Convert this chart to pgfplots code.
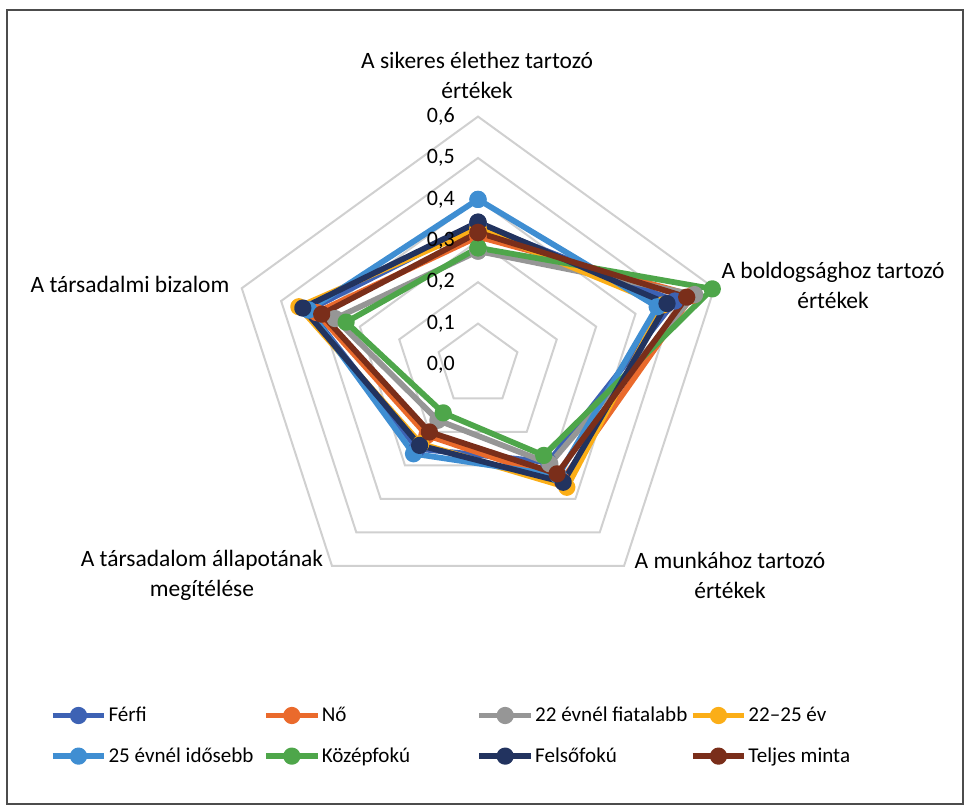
\documentclass[border=0pt]{standalone}
\usepackage{pgfplots}
\pgfplotsset{compat=1.18}
\usepackage{fontspec}
\setmainfont{Carlito}

\definecolor{ferfi}{HTML}{3D62B4}
\definecolor{no}{HTML}{EA6A2C}
\definecolor{fiatal}{HTML}{969696}
\definecolor{kozep}{HTML}{FBAE17}
\definecolor{idos}{HTML}{3F8ED2}
\definecolor{kozepfok}{HTML}{4EA64A}
\definecolor{felso}{HTML}{22335F}
\definecolor{teljes}{HTML}{7A2E1A}
\definecolor{racs}{HTML}{D0D0D0}

% spokes (deg): 90 sikeres elet, 18 boldogsag, -54 munka, -126 tarsadalom allapota, 162 bizalom
\pgfplotsset{
  radar/.style={data cs=polar, line width=4.3pt, line join=round, mark=*, mark size=4.3pt,
    mark options={solid}},
}

\begin{document}
\begin{tikzpicture}
\begin{axis}[
  hide axis, scale only axis, clip=false,
  width=724.5pt, height=604.5pt,
  xmin=-1.1546, xmax=1.1787, ymin=-1.0652, ymax=0.8816,
  legend columns=4,
  legend cell align=left,
  legend style={draw=none, fill=none, at={(axis cs:-1.0445,-0.8130)}, anchor=north west,
    font=\fontsize{15.8}{19}\selectfont, row sep=14pt,
    nodes={inner xsep=1pt},
    /tikz/every odd column/.append style={column sep=0pt}},
  legend image code/.code={\draw[mark repeat=2, mark phase=2, #1]
    plot coordinates {(0cm,0cm) (0.68cm,0cm) (1.36cm,0cm)};},
]
\path (rel axis cs:0,0) rectangle (rel axis cs:1,1);
\draw[gray!60!black, line width=1.4pt] (axis cs:-1.1377,-1.0604) rectangle (axis cs:1.1715,0.8575);

% grid
\addplot[forget plot, data cs=polar, racs, line width=1.5pt, line join=miter] coordinates {(90,0.1) (18,0.1) (-54,0.1) (-126,0.1) (162,0.1) (90,0.1) (18,0.1)};
\addplot[forget plot, data cs=polar, racs, line width=1.5pt, line join=miter] coordinates {(90,0.2) (18,0.2) (-54,0.2) (-126,0.2) (162,0.2) (90,0.2) (18,0.2)};
\addplot[forget plot, data cs=polar, racs, line width=1.5pt, line join=miter] coordinates {(90,0.3) (18,0.3) (-54,0.3) (-126,0.3) (162,0.3) (90,0.3) (18,0.3)};
\addplot[forget plot, data cs=polar, racs, line width=1.5pt, line join=miter] coordinates {(90,0.4) (18,0.4) (-54,0.4) (-126,0.4) (162,0.4) (90,0.4) (18,0.4)};
\addplot[forget plot, data cs=polar, racs, line width=1.5pt, line join=miter] coordinates {(90,0.5) (18,0.5) (-54,0.5) (-126,0.5) (162,0.5) (90,0.5) (18,0.5)};
\addplot[forget plot, data cs=polar, racs, line width=1.5pt, line join=miter] coordinates {(90,0.6) (18,0.6) (-54,0.6) (-126,0.6) (162,0.6) (90,0.6) (18,0.6)};

% series
\addplot[radar, color=ferfi] coordinates {(90,0.340) (18,0.500) (-54,0.290) (-126,0.250) (162,0.430) (90,0.340)};
\addplot[radar, color=no] coordinates {(90,0.310) (18,0.545) (-54,0.345) (-126,0.210) (162,0.410) (90,0.310)};
\addplot[radar, color=fiatal] coordinates {(90,0.275) (18,0.550) (-54,0.295) (-126,0.165) (162,0.363) (90,0.275)};
\addplot[radar, color=kozep] coordinates {(90,0.330) (18,0.470) (-54,0.365) (-126,0.235) (162,0.455) (90,0.330)};
\addplot[radar, color=idos] coordinates {(90,0.400) (18,0.455) (-54,0.330) (-126,0.265) (162,0.430) (90,0.400)};
\addplot[radar, color=kozepfok] coordinates {(90,0.283) (18,0.595) (-54,0.270) (-126,0.143) (162,0.335) (90,0.283)};
\addplot[radar, color=felso] coordinates {(90,0.345) (18,0.480) (-54,0.350) (-126,0.240) (162,0.445) (90,0.345)};
\addplot[radar, color=teljes] coordinates {(90,0.320) (18,0.530) (-54,0.325) (-126,0.200) (162,0.397) (90,0.320)};

\legend{\makebox[115pt][l]{Férfi}, \makebox[115pt][l]{Nő}, \makebox[115pt][l]{22 évnél fiatalabb}, \makebox[115pt][l]{22–25 év},
  \makebox[115pt][l]{25 évnél idősebb}, \makebox[115pt][l]{Középfokú}, \makebox[115pt][l]{Felsőfokú}, \makebox[115pt][l]{Teljes minta}}

% tick labels
\begin{scope}[every node/.style={anchor=east, inner sep=0pt, font=\fontsize{16.5}{19}\selectfont}]
\node at (axis cs:-0.0556,0.0) {0,0};
\node at (axis cs:-0.0556,0.1) {0,1};
\node at (axis cs:-0.0556,0.2) {0,2};
\node at (axis cs:-0.0556,0.3) {0,3};
\node at (axis cs:-0.0556,0.4) {0,4};
\node at (axis cs:-0.0556,0.5) {0,5};
\node at (axis cs:-0.0556,0.6) {0,6};
\end{scope}

% category labels
\begin{scope}[every node/.style={align=center, inner sep=0pt, font=\fontsize{17.6}{22.5}\selectfont}]
\node at (axis cs:-0.0024,0.7005) {A sikeres élethez tartozó\\értékek};
\node at (axis cs:0.8575,0.1932) {A boldogsághoz tartozó\\értékek};
\node at (axis cs:0.6087,-0.5072) {A munkához tartozó\\értékek};
\node at (axis cs:-0.6667,-0.5072) {A társadalom állapotának\\megítélése};
\node at (axis cs:-0.8406,0.1957) {A társadalmi bizalom};
\end{scope}
\end{axis}
\end{tikzpicture}
\end{document}
